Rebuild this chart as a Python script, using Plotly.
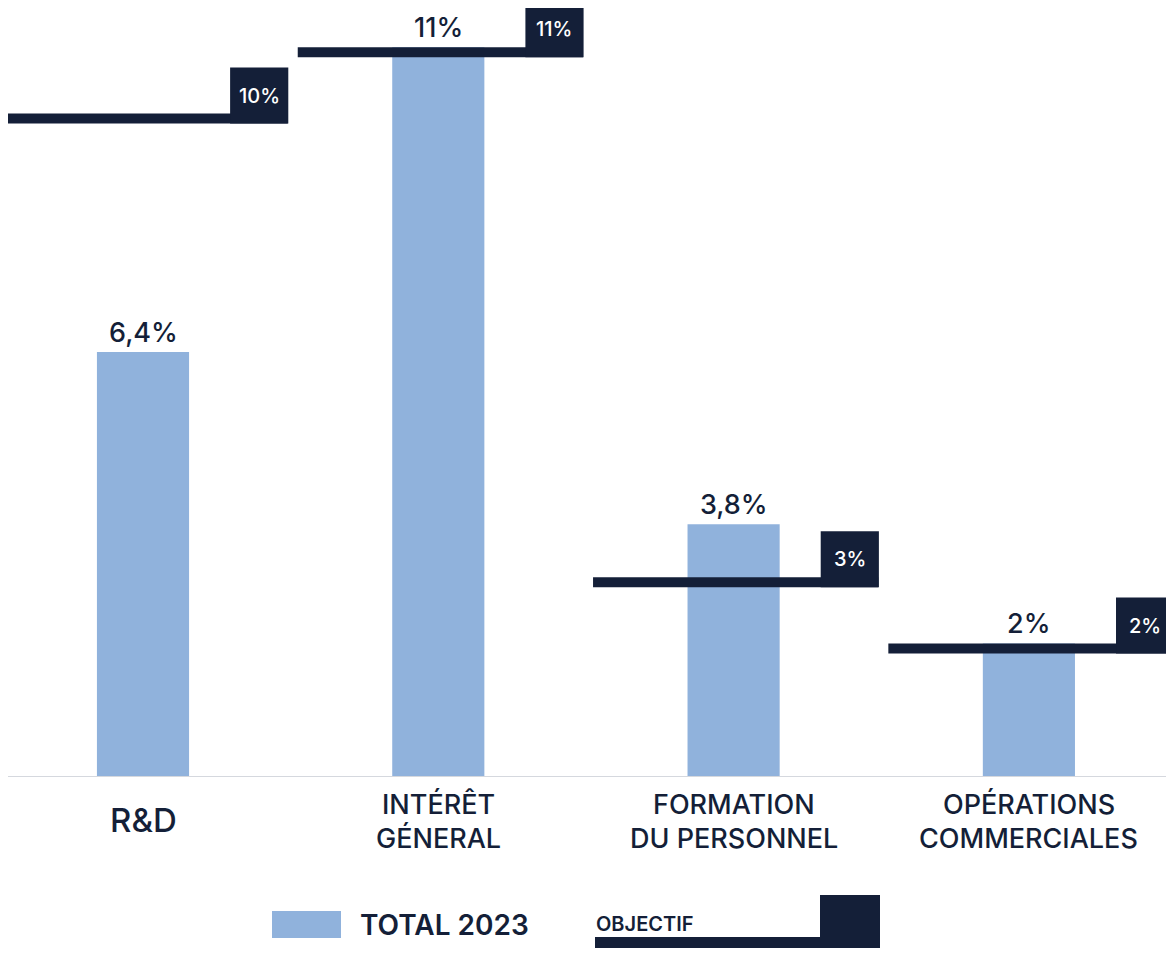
import plotly.graph_objects as go

categories = ["R&D", "INTÉRÊT<br>GÉNERAL", "FORMATION<br>DU PERSONNEL", "OPÉRATIONS<br>COMMERCIALES"]
total_2023 = [6.4, 11, 3.8, 2]
total_labels = ["6,4%", "11%", "3,8%", "2%"]
objectif = [10, 11, 3, 2]
objectif_labels = ["10%", "11%", "3%", "2%"]
legend_names = ["TOTAL 2023", "OBJECTIF"]

BAR = "#90b2dc"
NAVY = "#141f38"
FONT = "Inter"
OFF = 8  # page body margin
W, H = 1174 - OFF, 953 - OFF
BASE = 776 - OFF  # baseline pixel in figure
PX_PER_UNIT = 66.25
C0 = 143 - OFF  # center of first category (px)
STEP = 295.3    # px per category

x = list(range(len(categories)))

fig = go.Figure()
fig.add_trace(go.Bar(x=x, y=total_2023, width=0.312, marker_color=BAR,
                     marker_line_width=0, showlegend=False, hoverinfo="skip"))

for i, (v, lab) in enumerate(zip(objectif, objectif_labels)):
    # objective bar: top edge at the objective value
    fig.add_shape(type="rect", xref="x", yref="y", x0=i - 0.476, x1=i + 0.49,
                  ysizemode="pixel", yanchor=v, y0=-10, y1=0,
                  fillcolor=NAVY, line_width=0, layer="above")
    fig.add_shape(type="rect", xref="x", yref="y", x0=i + 0.295, x1=i + 0.492,
                  ysizemode="pixel", yanchor=v, y0=-10, y1=46,
                  fillcolor=NAVY, line_width=0, layer="above")
    fig.add_annotation(x=i + 0.393, y=v, xref="x", yref="y", text=lab,
                       showarrow=False, yshift=18,
                       font=dict(family=FONT, size=20, color="white", weight=500))

for i, (v, lab) in enumerate(zip(total_2023, total_labels)):
    fig.add_annotation(x=i, y=v, xref="x", yref="y", text=lab, showarrow=False,
                       yshift=20, font=dict(family=FONT, size=27, color=NAVY, weight=500))

for i, cat in enumerate(categories):
    lines = cat.split("<br>")
    if len(lines) == 1:
        fig.add_annotation(x=i, y=0, xref="x", yref="paper", text=lines[0], showarrow=False,
                           yanchor="middle", yshift=-44,
                           font=dict(family=FONT, size=33, color=NAVY, weight=500))
    else:
        for k, ln in enumerate(lines):
            fig.add_annotation(x=i, y=0, xref="x", yref="paper", text=ln, showarrow=False,
                               yanchor="middle", yshift=-28 - 34 * k,
                               font=dict(family=FONT, size=27, color=NAVY, weight=500))


def px_x(p):
    return (p - OFF) / W


def px_y(p):
    return (BASE - (p - OFF)) / BASE


# legend (custom)
fig.add_shape(type="rect", xref="paper", yref="paper", x0=px_x(272), x1=px_x(341),
              y0=px_y(938), y1=px_y(911), fillcolor=BAR, line_width=0)
fig.add_annotation(xref="paper", yref="paper", x=px_x(358), y=px_y(925), xanchor="left",
                   yanchor="middle", text=legend_names[0], showarrow=False,
                   font=dict(family=FONT, size=28, color=NAVY, weight=600))
fig.add_shape(type="rect", xref="paper", yref="paper", x0=px_x(595), x1=px_x(880),
              y0=px_y(948), y1=px_y(937), fillcolor=NAVY, line_width=0)
fig.add_shape(type="rect", xref="paper", yref="paper", x0=px_x(820), x1=px_x(880),
              y0=px_y(948), y1=px_y(895), fillcolor=NAVY, line_width=0)
fig.add_annotation(xref="paper", yref="paper", x=px_x(594), y=px_y(924), xanchor="left",
                   yanchor="middle", text=legend_names[1], showarrow=False,
                   font=dict(family=FONT, size=20, color=NAVY, weight=600))

x_lo = -C0 / STEP
x_hi = (W - C0) / STEP
fig.update_layout(
    width=W, height=H, margin=dict(l=0, r=0, t=0, b=H - BASE),
    paper_bgcolor="white", plot_bgcolor="white",
    xaxis=dict(range=[x_lo, x_hi], showticklabels=False, showgrid=False, zeroline=False,
               showline=True, linecolor="#d5d8de", linewidth=1, fixedrange=True),
    yaxis=dict(range=[0, BASE / PX_PER_UNIT], visible=False, fixedrange=True),
    showlegend=False,
)
fig.write_html("out.html")
